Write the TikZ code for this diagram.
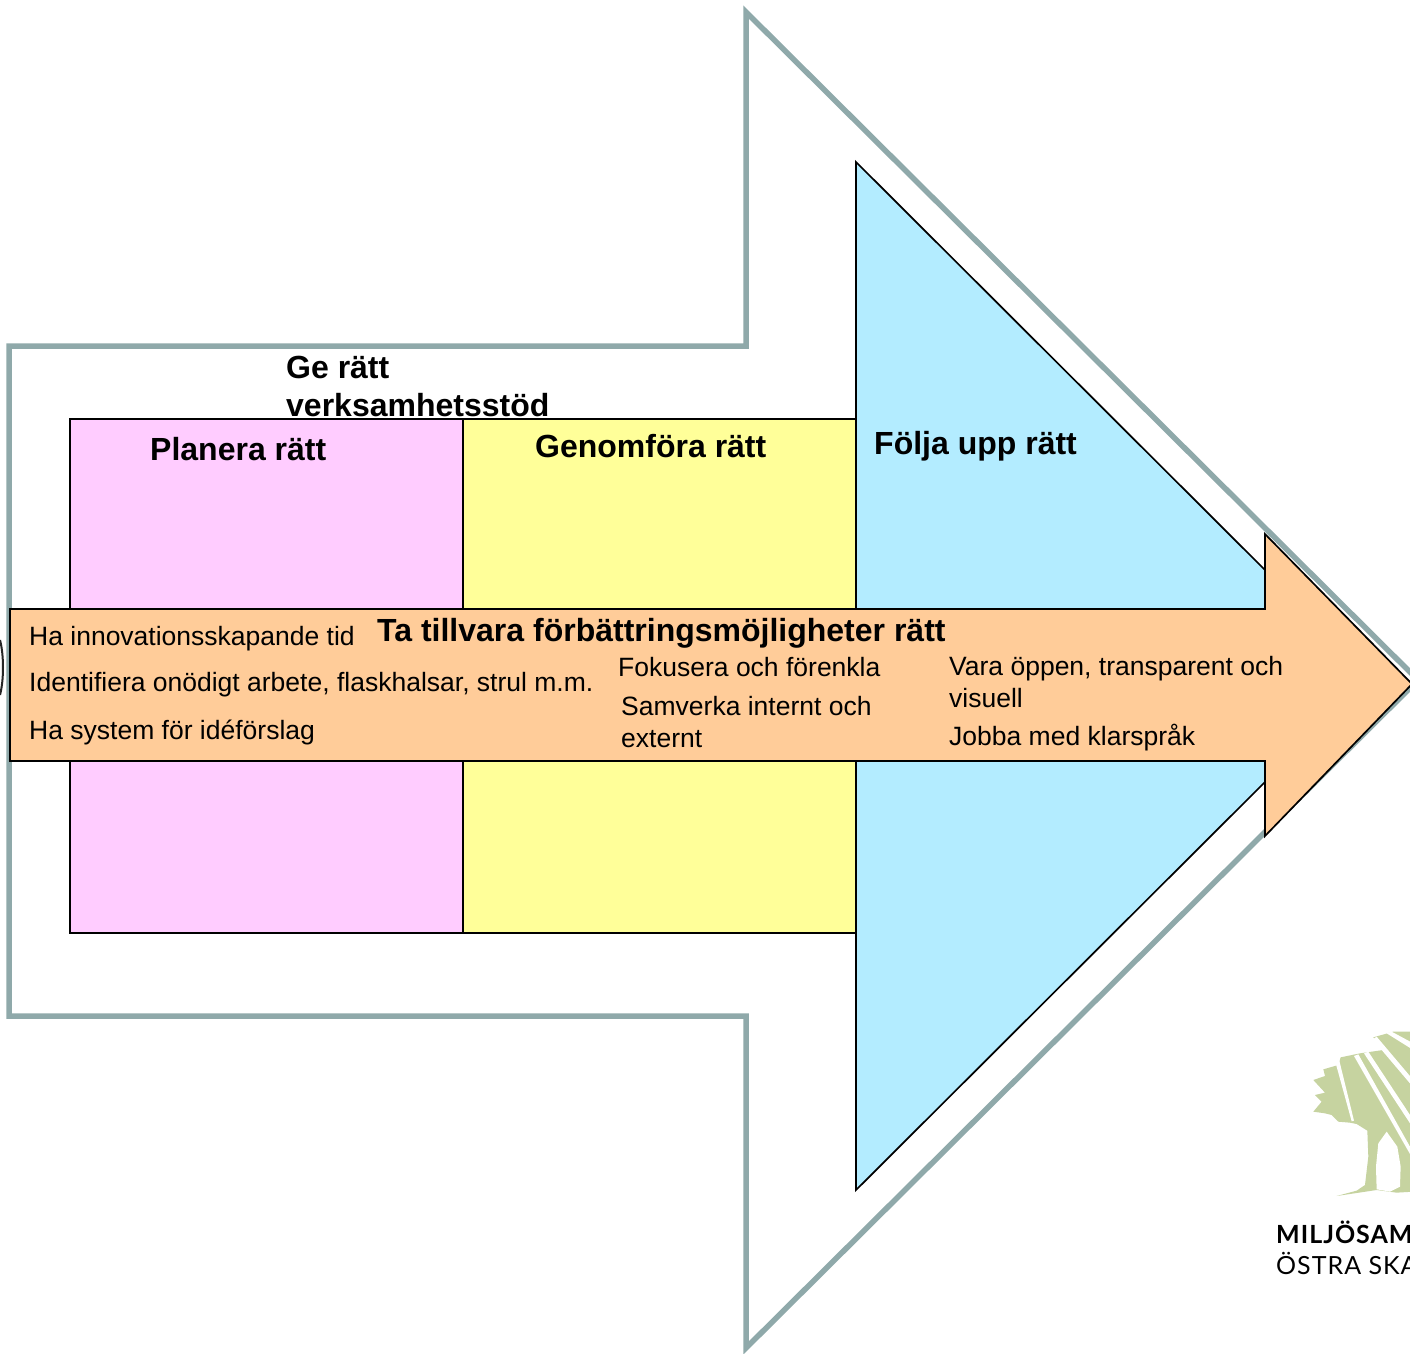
\documentclass[tikz,border=0pt]{standalone}
\usepackage{fontspec}
\setmainfont{Liberation Sans}
\newfontfamily\logofont[LetterSpace=4]{Lato}
\definecolor{framegrey}{HTML}{8FA9AA}
\definecolor{pinkbox}{HTML}{FFCCFF}
\definecolor{yellowbox}{HTML}{FFFF99}
\definecolor{bluebox}{HTML}{B3ECFF}
\definecolor{orangebox}{HTML}{FFCC99}
\definecolor{treegreen}{HTML}{C6D3A0}
\tikzset{
  phase/.style={draw=black, line width=1.7pt, line join=miter},
  bodytext/.style={anchor=base west, inner sep=0pt, font=\fontsize{26.5}{30}\selectfont},
  headtext/.style={anchor=base west, inner sep=0pt, font=\fontsize{32}{36}\selectfont\bfseries},
  logotext/.style={anchor=base west, inner sep=0pt},
}
\begin{document}
\begin{tikzpicture}[x=1pt,y=-1pt]
 \useasboundingbox (0,0) rectangle (1410,1353);
 \fill[white] (0,0) rectangle (1410,1353);
 % outer arrow
 \draw[draw=framegrey, line width=5.5pt, line join=miter, fill=white]
   (9,346) -- (746,346) -- (746,12) -- (1418,680) -- (746,1348) -- (746,1016) -- (9,1016) -- cycle;
 % ring at the left edge
 \draw[black!85, line width=2pt] (0,640) .. controls (4,655) and (4,680) .. (0,695);
 % phases
 \filldraw[phase, fill=bluebox] (856,162) -- (1265,570) -- (1265,782) -- (856,1190) -- cycle;
 \filldraw[phase, fill=pinkbox] (70,419) rectangle (463,933);
 \filldraw[phase, fill=yellowbox] (463,419) rectangle (856,933);
 \filldraw[phase, fill=orangebox] (10,609) -- (1265,609) -- (1265,534) -- (1412,684) -- (1265,836) -- (1265,761) -- (10,761) -- cycle;
 % headings
 \begin{scope}[every node/.style={headtext}]
   \node (stod1) at (286,378) {Ge rätt};
   \node (stod2) at (286,416) {verksamhetsstöd};
   \node (planera) at (150,460) {Planera rätt};
   \node (genomfora) at (535,457) {Genomföra rätt};
   \node (folja) at (874,454) {Följa upp rätt};
   \node (tillvara) at (377,641) {Ta tillvara förbättringsmöjligheter rätt};
 \end{scope}
 % texts in the orange arrow
 \begin{scope}[every node/.style={bodytext}]
   \node (plan1) at (29,645) {Ha innovationsskapande tid};
   \node (plan2) at (29,691) {Identifiera onödigt arbete, flaskhalsar, strul m.m.};
   \node (plan3) at (29,739) {Ha system för idéförslag};
   \node (gen1) at (618,676) {Fokusera och förenkla};
   \node (gen2) at (621,715) {Samverka internt och};
   \node (gen3) at (621,747) {externt};
   \node (fol1) at (949,675) {Vara öppen, transparent och};
   \node (fol2) at (949,707) {visuell};
   \node (fol3) at (949,745) {Jobba med klarspråk};
 \end{scope}
 % logo
 \begin{scope}[shift={(1210,1000)}, x=.3333pt, y=-.3333pt]
   \fill[treegreen] (490,112) -- (550,95) -- (610,95) -- (610,575) -- (560,578) -- (500,570) -- (380,588)
     -- (440,572) -- (465,555) -- (475,470) -- (472,392) -- (440,372) -- (420,368) -- (385,365) -- (365,345)
     -- (345,340) -- (310,335) -- (335,305) -- (315,285) -- (345,278) -- (310,240) -- (345,228) -- (340,208)
     -- (385,195) -- (392,172) -- (450,160) -- (520,150) -- cycle;
   \fill[white] (505,430) -- (530,395) -- (562,440) -- (572,500) -- (570,560) -- (540,575) -- (500,568) -- (498,500) -- cycle;
   \fill[white] (375,182) -- (387,178) -- (432,362) -- (425,364) -- cycle;
   \fill[white] (432,168) -- (445,163) -- (600,440) -- (600,462) -- cycle;
   \fill[white] (462,160) -- (475,155) -- (610,360) -- (610,385) -- cycle;
   \fill[white] (530,100) -- (545,95) -- (610,130) -- (610,150) -- cycle;
   \fill[white] (488,118) -- (500,110) -- (610,240) -- (610,262) -- cycle;
 \end{scope}
 \node (logo1) [logotext, font=\logofont\fontsize{25}{30}\selectfont\bfseries] at (1276,1243) {MILJÖSAM};
 \node (logo2) [logotext, font=\logofont\fontsize{25}{30}\selectfont] at (1276,1274) {ÖSTRA SKA};
\end{tikzpicture}
\end{document}
